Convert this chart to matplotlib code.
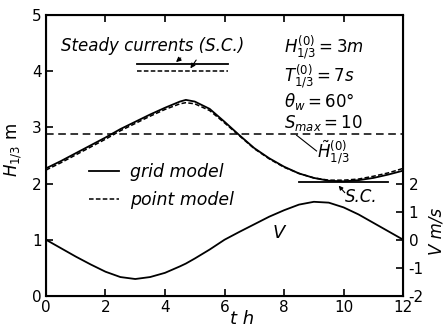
import matplotlib
matplotlib.use("Agg")
import matplotlib.pyplot as plt
from matplotlib.lines import Line2D

plt.rcParams['font.family'] = 'DejaVu Sans'
plt.rcParams['mathtext.fontset'] = 'dejavusans'

# time in hours
t = [0, 0.5, 1, 1.5, 2, 2.5, 3, 3.5, 4, 4.5, 4.7, 5, 5.5, 6, 6.5, 7, 7.5,
     8, 8.5, 9, 9.5, 10, 10.5, 11, 11.5, 12]
h_grid = [2.27, 2.40, 2.54, 2.68, 2.82, 2.97, 3.10, 3.23, 3.35, 3.46, 3.49, 3.46,
          3.33, 3.10, 2.86, 2.63, 2.45, 2.30, 2.18, 2.10, 2.05, 2.04, 2.06, 2.10,
          2.16, 2.23]
h_point = [2.24, 2.37, 2.51, 2.65, 2.79, 2.94, 3.07, 3.20, 3.32, 3.42, 3.44, 3.42,
           3.30, 3.08, 2.85, 2.62, 2.44, 2.29, 2.18, 2.10, 2.06, 2.06, 2.08, 2.13,
           2.19, 2.27]
v_speed = [0.0, -0.30, -0.60, -0.88, -1.14, -1.33, -1.40, -1.33, -1.18, -0.95,
           -0.85, -0.67, -0.35, 0.0, 0.28, 0.55, 0.82, 1.05, 1.25, 1.35, 1.32,
           1.15, 0.90, 0.60, 0.30, 0.0]

h_offshore = 2.89          # H~(0)1/3
sc_top_t = [3.05, 6.1]
sc_top_grid = 4.13
sc_top_point = 4.01
sc_low_t = [8.5, 11.5]
sc_low = 2.02

fig = plt.figure(figsize=(4.46, 3.28), dpi=100)
ax = fig.add_axes([0.103, 0.098, 0.801, 0.856])

ax.plot(t, h_grid, color='black', lw=1.3)
ax.plot(t, h_point, color='black', lw=1.1, ls=(0, (3, 1.5)))
ax.axhline(h_offshore, color='black', lw=1.1, ls=(0, (5, 3)))

ax.plot(sc_top_t, [sc_top_grid, sc_top_grid], color='black', lw=1.3)
ax.plot(sc_top_t, [sc_top_point, sc_top_point], color='black', lw=1.1, ls=(0, (3, 1.5)))
ax.plot(sc_low_t, [sc_low, sc_low], color='black', lw=1.3)

ax.set_xlim(0, 12)
ax.set_ylim(0, 5)
ax.set_xticks([0, 2, 4, 6, 8, 10, 12])
ax.set_yticks([0, 1, 2, 3, 4, 5])
ax.tick_params(direction='in', length=5, width=1.2, labelsize=11, top=True, pad=3)
for s in ax.spines.values():
    s.set_linewidth(1.5)

ax.set_ylabel(r'$H_{1/3}$ m', fontsize=12, labelpad=0)
ax.yaxis.set_label_coords(-0.062, 0.52)
ax.text(6.6, -0.42, 't h', fontsize=13, style='italic', ha='center', va='center')

ax2 = ax.twinx()
ax2.plot(t, v_speed, color='black', lw=1.3)
ax2.set_ylim(-2, 8)
ax2.set_yticks([-2, -1, 0, 1, 2])
ax2.set_yticklabels(['-2', '-1', '0', '1', '2'])
ax2.tick_params(direction='in', length=5, width=1.2, labelsize=11, pad=4)
ax2.set_ylabel('V m/s', fontsize=12, rotation=90, style='italic')
ax2.yaxis.set_label_coords(1.068, 0.23)

ax.text(0.5, 4.45, 'Steady currents (S.C.)', fontsize=12, style='italic', va='center')
ax.annotate('', xy=(4.3, 4.13), xytext=(4.6, 4.27),
            arrowprops=dict(arrowstyle='-|>', color='black', lw=0.8, mutation_scale=7))
ax.annotate('', xy=(4.8, 4.01), xytext=(5.1, 4.24),
            arrowprops=dict(arrowstyle='-|>', color='black', lw=0.8, mutation_scale=7))

fs = 12
ax.text(8.0, 4.41, r'$H^{(0)}_{1/3}=3m$', fontsize=fs, va='center')
ax.text(8.0, 3.90, r'$T^{(0)}_{1/3}=7s$', fontsize=fs, va='center')
ax.text(8.0, 3.47, r'$\theta_w=60°$', fontsize=fs, va='center')
ax.text(8.0, 3.08, r'$S_{max}=10$', fontsize=fs, va='center')
ax.text(9.1, 2.55, r'$\tilde{H}^{(0)}_{1/3}$', fontsize=fs, va='center')
ax.plot([8.42, 9.09], [2.86, 2.58], color='black', lw=0.8)
ax.text(10.05, 1.76, 'S.C.', fontsize=12, style='italic', va='center')
ax.annotate('', xy=(9.77, 2.0), xytext=(10.1, 1.8),
            arrowprops=dict(arrowstyle='-|>', color='black', lw=0.8, mutation_scale=6))
ax.text(7.6, 1.12, 'V', fontsize=13, style='italic', va='center')

handles = [Line2D([], [], color='black', lw=1.3),
           Line2D([], [], color='black', lw=1.1, ls=(0, (3, 1.5)))]
ax.legend(handles, ['grid model', 'point model'], loc='upper left',
          bbox_to_anchor=(0.095, 0.505), frameon=False,
          handlelength=1.75, handletextpad=0.65, labelspacing=0.6,
          borderpad=0, prop={'style': 'italic', 'size': 12.5})

fig.savefig('out.png', dpi=100)
